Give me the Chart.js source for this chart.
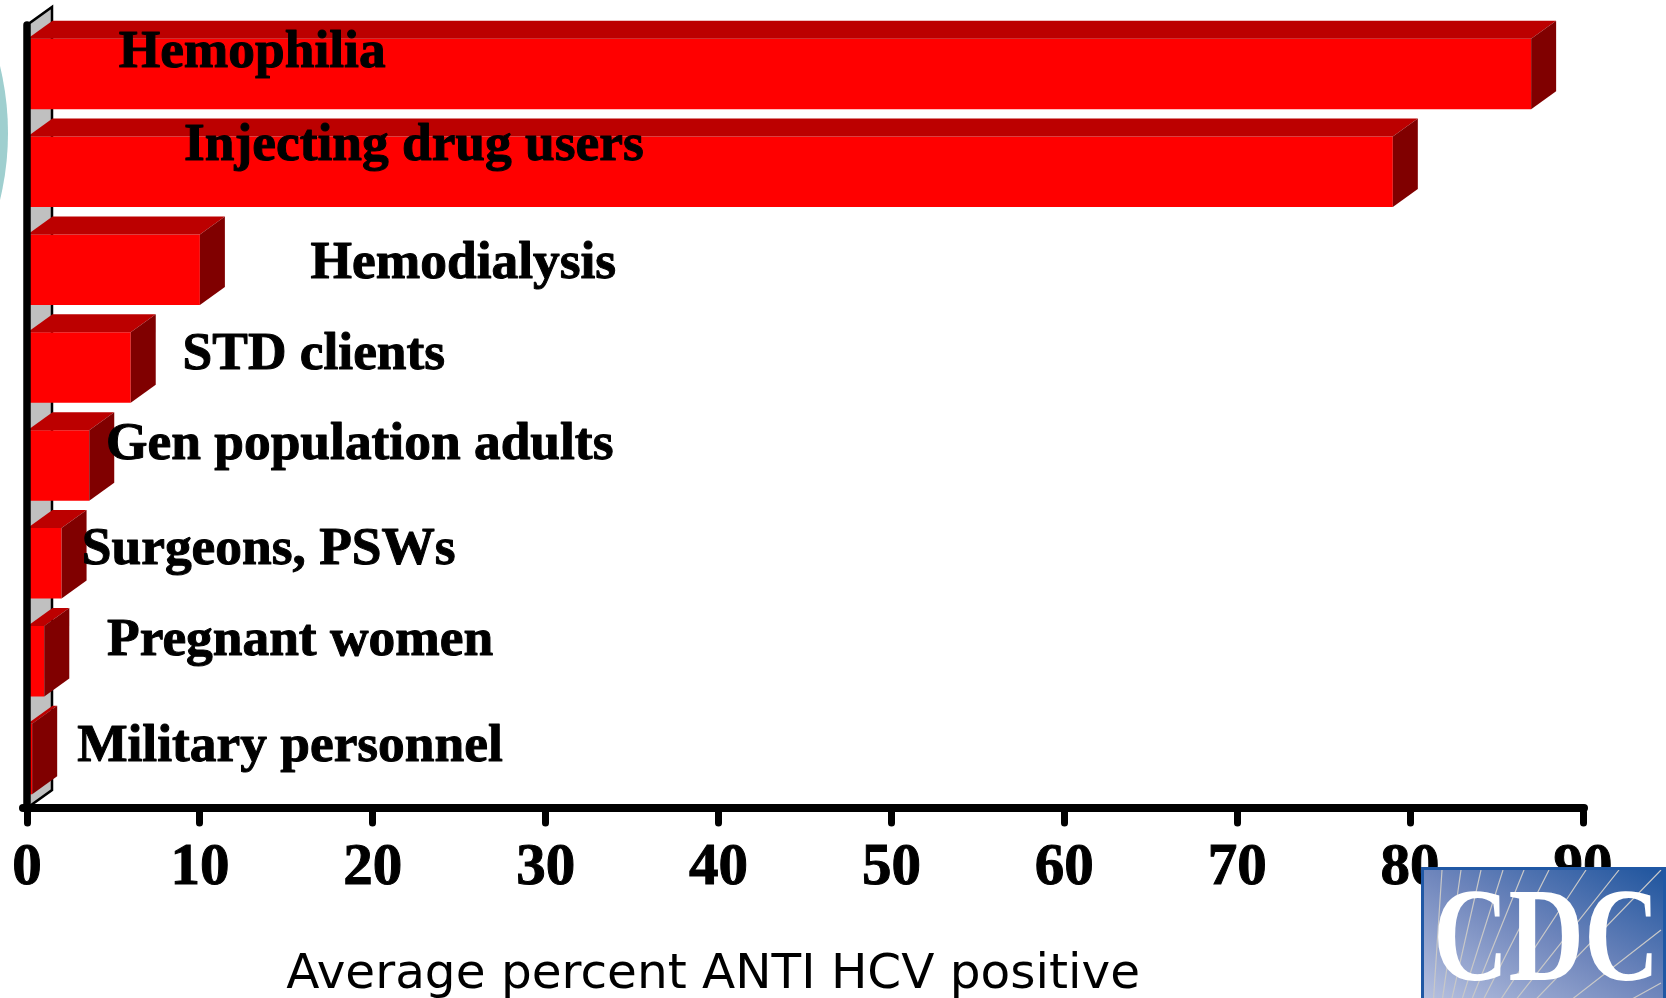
<!DOCTYPE html>
<html><head><meta charset="utf-8">
<style>
html,body{margin:0;padding:0;background:#fff;width:1666px;height:998px;overflow:hidden}
#wrap{position:relative;width:1666px;height:998px}
canvas{position:absolute;left:0;top:0}
#circle{position:absolute;left:-562px;top:-152px;width:570px;height:570px;border-radius:50%;background:#9FCFCF}
#logo{position:absolute;left:1421px;top:867px;width:245px;height:131px;overflow:hidden;box-sizing:border-box;border:3px solid #2058A5;border-bottom:0;background:linear-gradient(to top right,#B6C0DF 0%,#6F86BC 50%,#1F559E 100%)}
#logo svg{position:absolute;left:-3px;top:-3px}
#logo span{position:absolute;left:9px;top:-2px;font:700 134px/134px "Liberation Serif",serif;color:#fff;transform:scaleX(.78);transform-origin:0 0;white-space:nowrap}
</style></head><body>
<div id="wrap">
<div id="circle"></div>
<canvas id="c" width="1666" height="998"></canvas>
<div id="logo">
<svg width="245" height="131" viewBox="0 0 245 131"><g stroke="#C8C8C8" stroke-width="1.2" fill="none">
<path d="M5 246L21 3M5 246L40 3M5 246L60 3M5 246L82 3M5 246L103 3M5 246L128 3M5 246L165 3M5 246L198 3M5 246L240 3M5 246L240 63M5 246L240 116"/></g></svg>
<span>CDC</span></div>
</div>
<script src="https://cdn.jsdelivr.net/npm/chart.js@4/dist/chart.umd.min.js"></script>
<script>
const categories=["Hemophilia","Injecting drug users","Hemodialysis","STD clients","Gen population adults","Surgeons, PSWs","Pregnant women","Military personnel"];
const values=[87,79,10,6,3.6,2,1,0.3];
const xTicks=[0,10,20,30,40,50,60,70,80,90];
const axisTitle="Average percent ANTI HCV positive";
// label placement: left edge in axis units, baseline relative to the bar centre in px
const labelLeft=[5.3,9.08,16.4,9.0,4.57,3.17,4.63,2.9];
const labelDrop=[-7,-12,8,1,-6,1,-6,2];
const DX=25,DY=18;
const serif='"Liberation Serif","Times New Roman",serif';

function poly(ctx,pts,fill,stroke,lw){
  ctx.beginPath();pts.forEach((p,i)=>i?ctx.lineTo(p[0],p[1]):ctx.moveTo(p[0],p[1]));ctx.closePath();
  if(fill){ctx.fillStyle=fill;ctx.fill();}
  if(stroke){ctx.strokeStyle=stroke;ctx.lineWidth=lw;ctx.stroke();}
}
const bar3d={id:'bar3d',
  beforeDraw(ch){ch.ctx.lineCap='round';},
  beforeDatasetsDraw(ch){
    const {ctx,chartArea:a}=ch;ctx.save();
    poly(ctx,[[a.left,a.bottom],[a.left+DX,a.bottom-DY],[a.left+DX,a.top-DY],[a.left,a.top]],'#C0C0C0','#000',2.5);
    ctx.restore();
  },
  afterDatasetsDraw(ch){
    const {ctx,scales,chartArea:a}=ch;ctx.save();
    ch.getDatasetMeta(0).data.forEach((b,i)=>{
      const top=b.y-b.height/2,bot=b.y+b.height/2,l=b.base,r=b.x;
      poly(ctx,[[l,top],[l+DX,top-DY],[r+DX,top-DY],[r,top]],'#BC0000');
      poly(ctx,[[r,top],[r+DX,top-DY],[r+DX,bot-DY],[r,bot]],'#800000');
    });
    // vertical axis line, above the bars
    ctx.strokeStyle='#000';ctx.lineWidth=7.5;
    ctx.beginPath();ctx.moveTo(a.left,a.top);ctx.lineTo(a.left,a.bottom);ctx.stroke();
    ctx.fillStyle='#000';ctx.strokeStyle='#000';ctx.textBaseline='alphabetic';ctx.textAlign='left';
    ctx.font='bold 53.4px '+serif;ctx.lineWidth=1;ctx.lineJoin='round';
    ch.getDatasetMeta(0).data.forEach((b,i)=>{
      const x=scales.x.getPixelForValue(labelLeft[i]),y=b.y+labelDrop[i];
      ctx.fillText(categories[i],x,y);ctx.strokeText(categories[i],x,y);
    });
    ctx.font='48.5px "DejaVu Sans",sans-serif';
    ctx.fillText(axisTitle,scales.x.getPixelForValue(15),988);
    ctx.restore();
  }
};
new Chart(document.getElementById('c'),{
  type:'bar',
  data:{labels:categories,datasets:[{data:values,backgroundColor:'#FF0000',borderWidth:0,barPercentage:.72,categoryPercentage:1}]},
  plugins:[bar3d],
  options:{
    indexAxis:'y',responsive:false,animation:false,
    layout:{padding:{top:25,right:83,left:0,bottom:0}},
    plugins:{legend:{display:false},tooltip:{enabled:false},title:{display:false}},
    scales:{
      x:{type:'linear',min:0,max:90,position:'bottom',
        afterBuildTicks(s){s.ticks=xTicks.map(v=>({value:v}));},
        afterFit(s){s.height=190;},
        grid:{drawOnChartArea:false,drawTicks:true,tickLength:15,tickWidth:7,tickColor:'#000'},
        border:{display:true,color:'#000',width:8,z:1},
        ticks:{autoSkip:false,maxRotation:0,padding:10,color:'#000',textStrokeWidth:1,textStrokeColor:'#000',font:{family:serif,size:59,weight:'bold'}}},
      y:{type:'category',position:'left',
        afterFit(s){s.width=27;},
        grid:{display:false},
        border:{display:false},
        ticks:{display:false}}
    }
  }
});
</script></body></html>
